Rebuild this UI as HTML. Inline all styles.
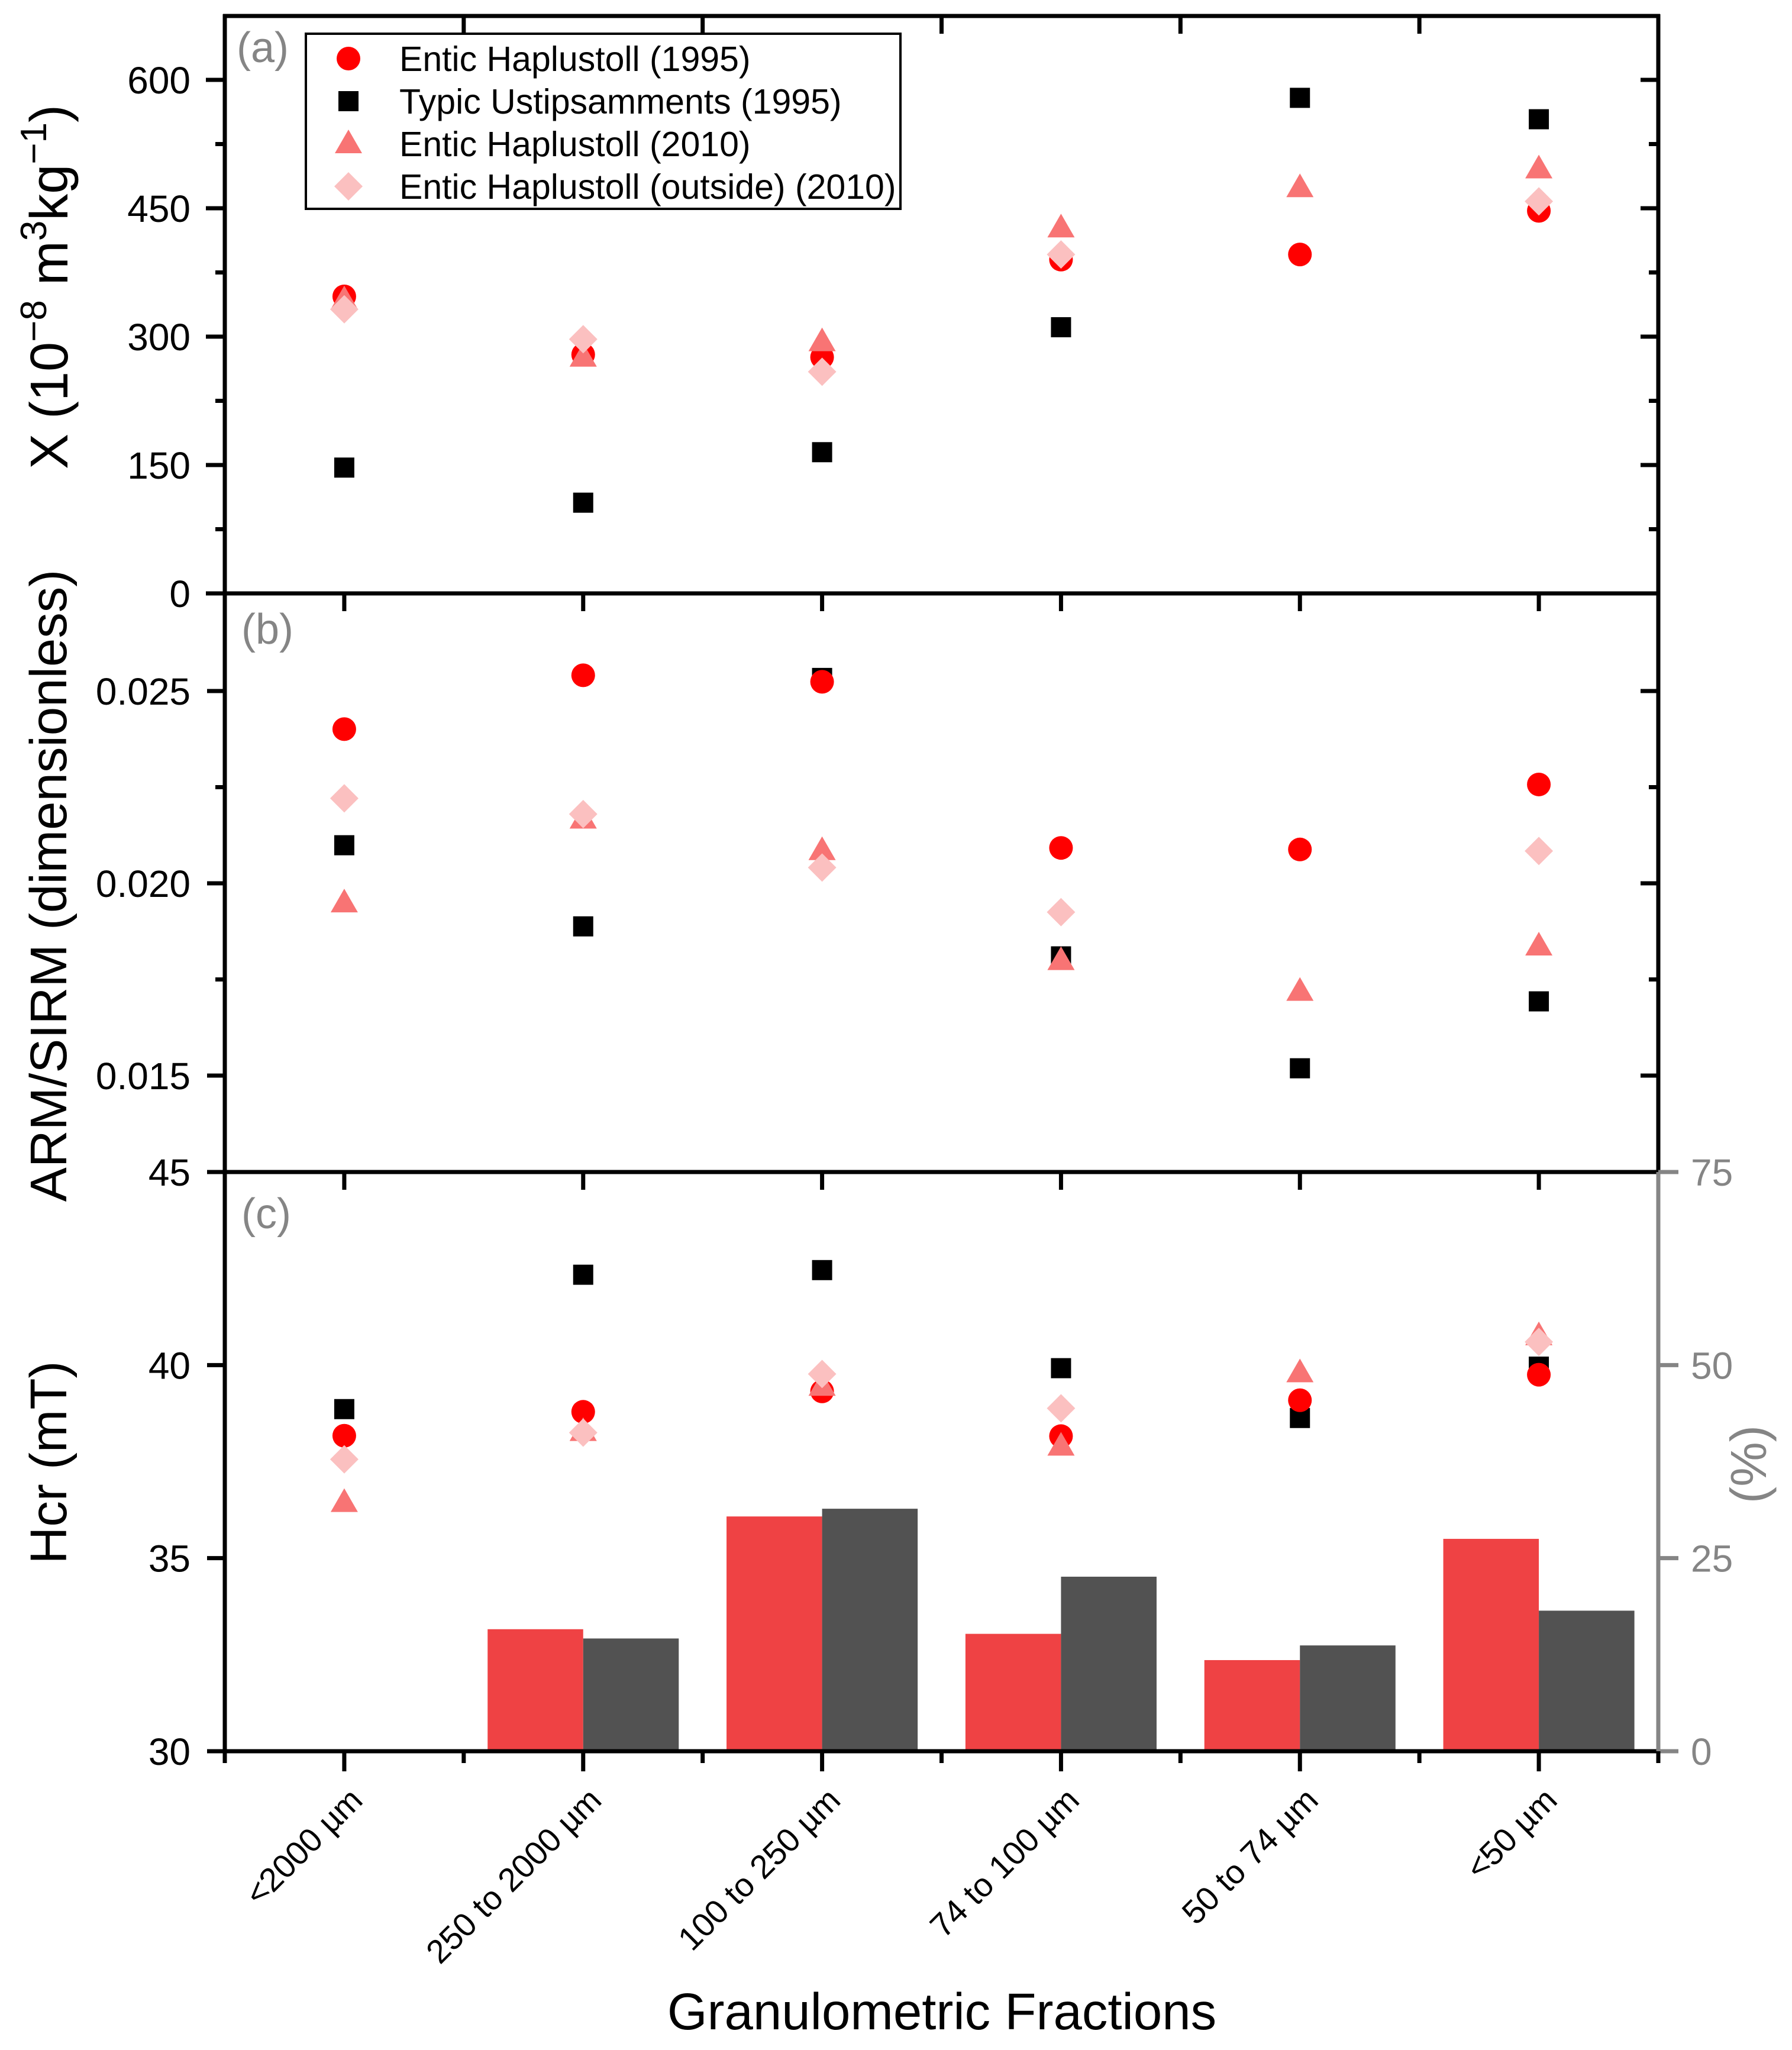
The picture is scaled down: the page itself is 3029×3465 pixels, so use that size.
<!DOCTYPE html>
<html><head><meta charset="utf-8"><style>
html,body{margin:0;padding:0;background:#fff}
svg{display:block}
text{font-family:"Liberation Sans",Arial,sans-serif}
</style></head><body>
<svg id="chart" width="3029" height="3465" viewBox="0 0 3029 3465" xmlns="http://www.w3.org/2000/svg">
<rect x="0" y="0" width="3029" height="3465" fill="#fff"/>
<g id="layer"></g>
</svg>
<script>
const categories = ["<2000 \u00b5m","250 to 2000 \u00b5m","100 to 250 \u00b5m","74 to 100 \u00b5m","50 to 74 \u00b5m","<50 \u00b5m"];
const seriesNames = ["Entic Haplustoll (1995)","Typic Ustipsamments (1995)","Entic Haplustoll (2010)","Entic Haplustoll (outside) (2010)"];
// panel a: susceptibility
const chiCircle = [347,279,276,390,396,447];
const chiSquare = [147,106,165,311,579,554];
const chiTriangle = [343,276,294,427,474,496];
const chiDiamond = [332,297,259,396,null,458];
// panel b: ARM/SIRM
const armCircle = [0.02401,0.02541,0.02524,0.02092,0.02088,0.02257];
const armSquare = [0.02099,0.01888,0.02534,0.01810,0.01519,0.01693];
const armTriangle = [0.01949,0.02167,0.02085,0.01799,0.01719,0.01837];
const armDiamond = [0.02221,0.02180,0.02041,0.01925,null,0.02084];
// panel c: Hcr
const hcrCircle = [38.17,38.79,39.32,38.16,39.09,39.75];
const hcrSquare = [38.86,42.34,42.46,39.92,38.63,39.96];
const hcrTriangle = [36.44,38.28,39.45,37.90,39.80,40.76];
const hcrDiamond = [37.56,38.25,39.77,38.88,null,40.60];
// percent bars
const pctRed = [0,15.8,30.4,15.2,11.8,27.5];
const pctGray = [0,14.6,31.4,22.6,13.7,18.2];
const ticksA = [0,150,300,450,600];
const ticksB = [0.015,0.020,0.025];
const ticksBLabels = ["0.015","0.020","0.025"];
const ticksC = [30,35,40,45];
const ticksPct = [0,25,50,75];

const NS="http://www.w3.org/2000/svg";
const layer=document.getElementById('layer');
function el(tag,attrs,parent){const e=document.createElementNS(NS,tag);for(const k in attrs)e.setAttribute(k,attrs[k]);(parent||layer).appendChild(e);return e;}

const X0=380,X1=2803,STEP=(X1-X0)/6;
const xs=i=>X0+STEP*(i+0.5);
const yA=v=>1003-(v-0)*(1003-135)/600;
const yB=v=>1493-(v-0.020)*(325/0.005);
const yC=v=>2960-(v-30)*(979/15);
const yP=v=>2960-v*(979/75);
const C_RED="#ff0000",C_TRI="#f87474",C_DIA="#fbc0c0",C_BLK="#000";

// bars
const bw=STEP*0.4;
pctRed.forEach((v,i)=>{const r=el('rect',{x:xs(i)-bw,y:yP(v),width:bw,height:yP(0)-yP(v),fill:'#ef4244'});

});
pctGray.forEach((v,i)=>{const r=el('rect',{x:xs(i),y:yP(v),width:bw,height:yP(0)-yP(v),fill:'#525252'});

});

function marker(type,cx,cy,parent){
  let m;
  if(type==='circle') m=el('ellipse',{cx:cx,cy:cy,rx:20,ry:20,fill:C_RED},parent);
  else if(type==='square') m=el('rect',{x:cx-17,y:cy-17,width:34,height:34,fill:C_BLK},parent);
  else if(type==='triangle') m=el('polygon',{points:`${cx},${cy-24} ${cx+23},${cy+16} ${cx-23},${cy+16}`,fill:C_TRI},parent);
  else m=el('polygon',{points:`${cx},${cy-24} ${cx+24},${cy} ${cx},${cy+24} ${cx-24},${cy}`,fill:C_DIA},parent);
  return m;
}
function series(arr,type,yf,name){
  arr.forEach((v,i)=>{if(v===null)return;const m=marker(type,xs(i),yf(v));
    
    });
}
[[chiSquare,'square'],[chiCircle,'circle'],[chiTriangle,'triangle'],[chiDiamond,'diamond']].forEach(s=>series(s[0],s[1],yA,'chi-'+s[1]));
[[armSquare,'square'],[armCircle,'circle'],[armTriangle,'triangle'],[armDiamond,'diamond']].forEach(s=>series(s[0],s[1],yB,'arm-'+s[1]));
[[hcrSquare,'square'],[hcrCircle,'circle'],[hcrTriangle,'triangle'],[hcrDiamond,'diamond']].forEach(s=>series(s[0],s[1],yC,'hcr-'+s[1]));

function line(x1,y1,x2,y2,c,w){return el('line',{x1:x1,y1:y1,x2:x2,y2:y2,stroke:c||'#000','stroke-width':w||7});}
function txt(s,x,y,attrs){const t=el('text',Object.assign({x:x,y:y},attrs||{}));t.textContent=s;return t;}

// frames
line(X0,24,X0,2964);
line(X0-3,27,X1+3,27);
line(X0,1003,X1,1003);
line(X1,24,X1,1984);
line(X0-30,1981,X1,1981);
line(X0-30,2960,X1,2960);
line(X1,1981,X1,2964,'#858585',7);

const TF=64;
// panel a ticks
ticksA.forEach(v=>{line(X0-32,yA(v),X0,yA(v));line(X1-30,yA(v),X1,yA(v));
  const t=txt(String(v),322,yA(v)+23,{'font-size':TF,'text-anchor':'end'});
  
  });
[75,225,375,525].forEach(v=>{line(X0-16,yA(v),X0,yA(v));line(X1-16,yA(v),X1,yA(v));});
for(let i=0;i<5;i++){line(X0+STEP*(i+1),27,X0+STEP*(i+1),57);}
// panel b ticks
ticksB.forEach((v,k)=>{line(X0-30,yB(v),X0,yB(v));line(X1-30,yB(v),X1,yB(v));
  const t=txt(ticksBLabels[k],322,yB(v)+23,{'font-size':TF,'text-anchor':'end'});
  
  });
[0.0175,0.0225].forEach(v=>{line(X0-16,yB(v),X0,yB(v));line(X1-16,yB(v),X1,yB(v));});
categories.forEach((c,i)=>line(xs(i),1003,xs(i),1033));
// panel c ticks
ticksC.forEach(v=>{line(X0-30,yC(v),X0,yC(v));
  const t=txt(String(v),322,yC(v)+23,{'font-size':TF,'text-anchor':'end'});
  
  });
ticksPct.forEach(v=>{line(X1,yP(v),X1+34,yP(v),'#858585',7);
  const t=txt(String(v),2858,yP(v)+23,{'font-size':TF,fill:'#858585'});
  
  });
categories.forEach((c,i)=>{line(xs(i),1981,xs(i),2011);line(xs(i),2960,xs(i),2994);
  const t=txt(c,0,0,{'font-size':56,'text-anchor':'end',transform:`translate(${xs(i)+34},3046) rotate(-45)`});
  
  });
for(let i=0;i<=6;i++){line(X0+STEP*i,2960,X0+STEP*i,2980);}

// panel labels
[['(a)',400,105],['(b)',408,1088],['(c)',408,2076]].forEach(p=>{const t=txt(p[0],p[1],p[2],{'font-size':72,fill:'#858585'});
  
  });

// axis titles
let t;
t=el('text',{x:0,y:0,'font-size':90,'text-anchor':'middle',transform:'translate(114,485) rotate(-90)'});
t.innerHTML='X (10<tspan dy="-36" font-size="62">\u22128</tspan><tspan dy="36"> m</tspan><tspan dy="-36" font-size="62">3</tspan><tspan dy="36">kg</tspan><tspan dy="-36" font-size="62">\u22121</tspan><tspan dy="36">)</tspan>';


t=txt('ARM/SIRM (dimensionless)',0,0,{'font-size':87,'text-anchor':'middle',transform:'translate(112,1497) rotate(-90)'});


t=txt('Hcr (mT)',0,0,{'font-size':87,'text-anchor':'middle',transform:'translate(112,2472) rotate(-90)'});


t=txt('(%)',0,0,{'font-size':85,'text-anchor':'middle',fill:'#858585',transform:'translate(2985,2475) rotate(-90)'});


t=txt('Granulometric Fractions',1592,3430,{'font-size':87,'text-anchor':'middle'});



// legend
const lg=el('g',{});


el('rect',{x:517,y:57,width:1005,height:296,fill:'#fff',stroke:'#000','stroke-width':4},lg);
const ltypes=['circle','square','triangle','diamond'];
seriesNames.forEach((n,k)=>{const y=99+72*k;
  const g=el('g',{},lg);
  
  
  marker(ltypes[k],589,y,g);
  const tt=el('text',{x:675,y:y+21,'font-size':59},g);tt.textContent=n;});
</script>
</body></html>
